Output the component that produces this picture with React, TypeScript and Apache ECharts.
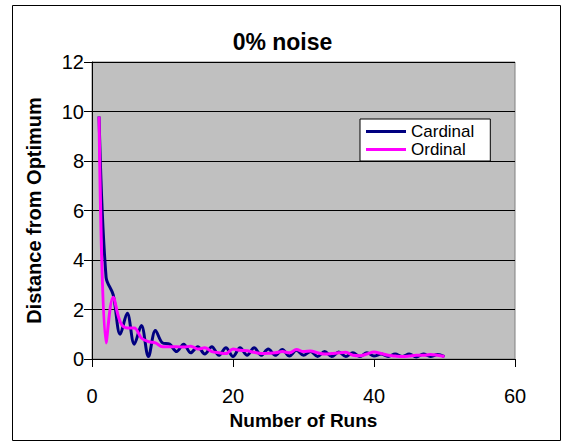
import React, { useEffect, useRef } from "react";
import * as echarts from "echarts";

// Run index 1..50
const runs: number[] = Array.from({ length: 50 }, (_, i) => i + 1);

const cardinal: number[] = [
  9.8, 3.3, 2.6, 1.0, 1.85, 0.6, 1.35, 0.1, 1.15, 0.65,
  0.6, 0.3, 0.6, 0.25, 0.5, 0.2, 0.5, 0.15, 0.45, 0.1,
  0.45, 0.15, 0.45, 0.15, 0.4, 0.15, 0.38, 0.12, 0.35, 0.15,
  0.3, 0.1, 0.3, 0.1, 0.28, 0.1, 0.25, 0.1, 0.25, 0.12,
  0.2, 0.1, 0.2, 0.1, 0.2, 0.08, 0.2, 0.1, 0.18, 0.1,
];

const ordinal: number[] = [
  9.8, 0.65, 2.5, 1.5, 1.25, 1.25, 0.85, 0.7, 0.65, 0.5,
  0.5, 0.5, 0.48, 0.52, 0.4, 0.45, 0.3, 0.25, 0.22, 0.4,
  0.35, 0.33, 0.27, 0.22, 0.23, 0.25, 0.3, 0.25, 0.38, 0.3,
  0.32, 0.25, 0.2, 0.22, 0.25, 0.27, 0.15, 0.13, 0.2, 0.28,
  0.22, 0.15, 0.12, 0.1, 0.12, 0.15, 0.15, 0.18, 0.15, 0.1,
];

const FONT = "'Liberation Sans', Arial, sans-serif";

export default function App() {
  const ref = useRef<HTMLDivElement>(null);

  useEffect(() => {
    if (!ref.current) return;
    const chart = echarts.init(ref.current, undefined, { renderer: "svg" });
    chart.setOption({
      animation: false,
      backgroundColor: "#ffffff",
      title: {
        text: "0% noise",
        left: "center",
        top: 25,
        textStyle: { fontFamily: FONT, fontSize: 23, fontWeight: "bold", color: "#000" },
      },
      legend: {
        orient: "vertical",
        left: 360,
        top: 119,
        icon: "rect",
        itemWidth: 40,
        itemHeight: 3,
        itemGap: 1,
        padding: [4, 16, 3, 6],
        backgroundColor: "#ffffff",
        borderColor: "#000000",
        borderWidth: 1,
        borderRadius: 0,
        textStyle: { fontFamily: FONT, fontSize: 17, color: "#000" },
        data: ["Cardinal", "Ordinal"],
      },
      grid: {
        left: 92,
        top: 62,
        width: 423,
        height: 297,
        show: true,
        backgroundColor: "#C0C0C0",
        borderColor: "#808080",
        borderWidth: 1,
      },
      xAxis: {
        type: "value",
        min: 0,
        max: 60,
        interval: 20,
        name: "Number of Runs",
        nameLocation: "middle",
        nameGap: 45,
        nameTextStyle: { fontFamily: FONT, fontSize: 19, fontWeight: "bold", color: "#000" },
        axisLine: { show: true, lineStyle: { color: "#000", width: 1 } },
        axisTick: { show: true, inside: false, length: 8, lineStyle: { color: "#000" } },
        axisLabel: { fontFamily: FONT, fontSize: 20, color: "#000", margin: 27 },
        splitLine: { show: false },
      },
      yAxis: {
        type: "value",
        min: 0,
        max: 12,
        interval: 2,
        name: "Distance from Optimum",
        nameLocation: "middle",
        nameGap: 48,
        nameTextStyle: { fontFamily: FONT, fontSize: 20, fontWeight: "bold", color: "#000" },
        axisLine: { show: true, lineStyle: { color: "#000", width: 1 } },
        axisTick: { show: true, inside: false, length: 8, lineStyle: { color: "#000" } },
        axisLabel: { fontFamily: FONT, fontSize: 20, color: "#000", margin: 8 },
        splitLine: { show: true, lineStyle: { color: "#000", width: 1 } },
      },
      graphic: [
        {
          type: "rect",
          shape: { x: 12.5, y: 5.5, width: 548, height: 435 },
          style: { fill: "none", stroke: "#000", lineWidth: 1 },
          silent: true,
          z: -1,
        },
      ],
      series: [
        {
          name: "Cardinal",
          type: "line",
          data: runs.map((r, i) => [r, cardinal[i]]),
          showSymbol: false,
          symbol: "none",
          smooth: 0.35,
          lineStyle: { color: "#000080", width: 3 },
          itemStyle: { color: "#000080" },
        },
        {
          name: "Ordinal",
          type: "line",
          data: runs.map((r, i) => [r, ordinal[i]]),
          showSymbol: false,
          symbol: "none",
          smooth: 0.35,
          lineStyle: { color: "#FF00FF", width: 3 },
          itemStyle: { color: "#FF00FF" },
        },
      ],
    });
    return () => chart.dispose();
  }, []);

  return (
    <div
      ref={ref}
      style={{ position: "fixed", left: 0, top: 0, width: 565, height: 446 }}
    />
  );
}
